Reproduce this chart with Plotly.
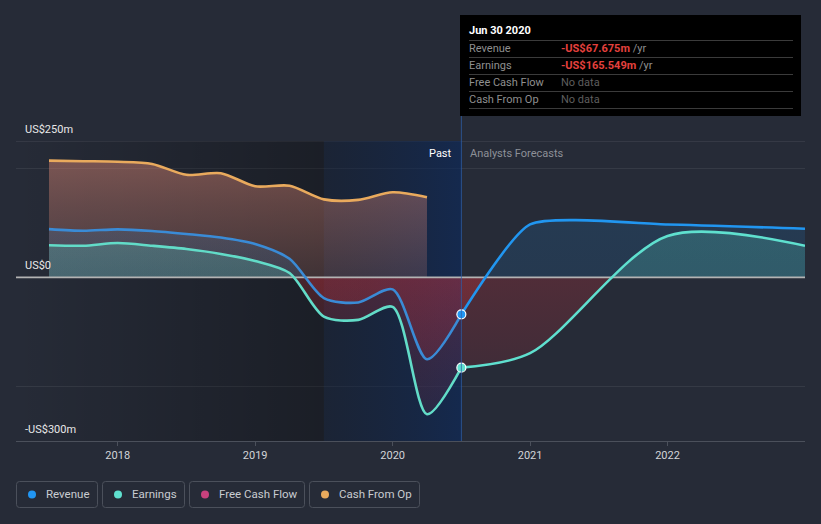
import plotly.graph_objects as go

# ---------------- data ----------------
past_x = [2017.5, 2017.75, 2018.0, 2018.25, 2018.5, 2018.75, 2019.0, 2019.25,
          2019.5, 2019.75, 2020.0, 2020.25, 2020.5]
revenue_past = [88.5, 85.5, 88, 85, 79.5, 73, 61, 34, -38, -46, -22, -150, -67.675]
earnings_past = [59, 58, 63, 58, 52, 43, 30, 8, -72, -78, -54, -251, -165.549]
cfo_x = [2017.5, 2017.75, 2018.0, 2018.25, 2018.5, 2018.75, 2019.0, 2019.25,
         2019.5, 2019.75, 2020.0, 2020.25]
cfo_values = [214, 213, 212, 208, 188, 191, 167, 168, 143, 142, 156, 147]
forecast_x = [2021.0, 2022.0, 2023.0]
revenue_fc = [97, 97, 89]
earnings_fc = [-139, 76, 58]

tick_years = [2018, 2019, 2020, 2021, 2022]
y_labels = {250: "US$250m", 0: "US$0", -300: "-US$300m"}
legend_names = ["Revenue", "Earnings", "Free Cash Flow", "Cash From Op"]
legend_colors = ["#2196f3", "#5fe0cf", "#c8417d", "#e9aa5d"]

x_range = [2017.26, 2023.0]
y_range = [-300, 250]
past_start, now_x = 2019.5, 2020.5

BG = "#262b37"
FONT = "Roboto"
W, H = 821, 524
ML, MR, MT, MB = 16, 16, 141, 83
PW, PH = W - ML - MR, H - MT - MB


def px_x(px):
    return (px - ML) / PW


def px_y(py):
    return (H - MB - py) / PH


# past and forecast segments (forecast starts at the last reported point)
fc_x = [past_x[-1]] + forecast_x
rev_fc_y = [revenue_past[-1]] + revenue_fc
ear_fc_y = [earnings_past[-1]] + earnings_fc

z = -y_range[0] / (y_range[1] - y_range[0])

fig = go.Figure()

# background gradients
fig.add_trace(go.Scatter(
    x=[x_range[0], past_start, past_start, x_range[0], x_range[0]],
    y=[y_range[0], y_range[0], y_range[1], y_range[1], y_range[0]],
    mode="lines", line=dict(width=0), fill="toself",
    fillgradient=dict(type="horizontal", start=x_range[0], stop=past_start,
                      colorscale=[[0, "rgba(0,0,0,0)"], [1, "rgba(0,0,0,0.3)"]]),
    hoverinfo="skip", showlegend=False))
fig.add_trace(go.Scatter(
    x=[past_start, now_x, now_x, past_start, past_start],
    y=[y_range[0], y_range[0], y_range[1], y_range[1], y_range[0]],
    mode="lines", line=dict(width=0), fill="toself",
    fillgradient=dict(type="horizontal", start=past_start, stop=now_x,
                      colorscale=[[0, "rgba(10,25,50,0.4)"], [1, "rgba(10,40,92,0.62)"]]),
    hoverinfo="skip", showlegend=False))

SM_PAST = 0.8
SM_REV_FC = 0.55
SM_EAR_FC = 0.85
red_lo = "rgba(200,50,60,0.08)"
red_hi = "rgba(200,50,60,0.26)"


def fill_trace(x, y, sm, pos_lo, pos_hi):
    return go.Scatter(
        x=x, y=y, mode="lines", line=dict(width=0, shape="spline", smoothing=sm),
        fill="tozeroy",
        fillgradient=dict(type="vertical", start=y_range[0], stop=y_range[1],
                          colorscale=[[0, red_lo], [z - 0.0005, red_hi],
                                      [z + 0.0005, pos_lo], [1, pos_hi]]),
        hoverinfo="skip", showlegend=False)


def line_trace(x, y, sm, color):
    return go.Scatter(x=x, y=y, mode="lines",
                      line=dict(color=color, width=2.6, shape="spline", smoothing=sm),
                      hoverinfo="skip", showlegend=False)


# fills
fig.add_trace(go.Scatter(
    x=cfo_x, y=cfo_values, mode="lines", line=dict(width=0, shape="spline", smoothing=SM_PAST),
    fill="tozeroy",
    fillgradient=dict(type="vertical", start=0, stop=220,
                      colorscale=[[0, "rgba(230,140,120,0.18)"], [0.6, "rgba(230,140,120,0.33)"],
                                  [1, "rgba(230,140,120,0.45)"]]),
    hoverinfo="skip", showlegend=False))
rev_pos = ("rgba(33,150,243,0.13)", "rgba(33,150,243,0.16)")
ear_pos = ("rgba(92,225,207,0.2)", "rgba(92,225,207,0.24)")
fig.add_trace(fill_trace(past_x, revenue_past, SM_PAST, *rev_pos))
fig.add_trace(fill_trace(fc_x, rev_fc_y, SM_REV_FC, *rev_pos))
fig.add_trace(fill_trace(past_x, earnings_past, SM_PAST, *ear_pos))
fig.add_trace(fill_trace(fc_x, ear_fc_y, SM_EAR_FC, *ear_pos))

# zero line
fig.add_trace(go.Scatter(x=x_range, y=[0, 0], mode="lines",
                         line=dict(color="#b3b3b3", width=1.6),
                         hoverinfo="skip", showlegend=False))

# lines
fig.add_trace(line_trace(cfo_x, cfo_values, SM_PAST, "#e9aa5d"))
fig.add_trace(line_trace(past_x, revenue_past, SM_PAST, "#3a8bd6"))
fig.add_trace(line_trace(fc_x, rev_fc_y, SM_REV_FC, "#2196f0"))
fig.add_trace(line_trace(past_x, earnings_past, SM_PAST, "#62dcc8"))
fig.add_trace(line_trace(fc_x, ear_fc_y, SM_EAR_FC, "#5fe0cf"))

# hover markers
fig.add_trace(go.Scatter(x=[past_x[-1]], y=[revenue_past[-1]], mode="markers",
                         marker=dict(color="#2196f3", size=9, line=dict(color="white", width=1.2)),
                         hoverinfo="skip", showlegend=False))
fig.add_trace(go.Scatter(x=[past_x[-1]], y=[earnings_past[-1]], mode="markers",
                         marker=dict(color="#5fe0cf", size=9, line=dict(color="white", width=1.2)),
                         hoverinfo="skip", showlegend=False))

shapes = []
annotations = []

# top gridline
shapes.append(dict(type="line", xref="paper", yref="y", x0=0, x1=1, y0=y_range[1], y1=y_range[1],
                   line=dict(color="#444955", width=1), layer="below"))
# hover vertical line
shapes.append(dict(type="line", xref="x", yref="paper", x0=now_x, x1=now_x, y0=0, y1=px_y(116),
                   line=dict(color="rgba(45,95,170,0.75)", width=1)))

# y labels
for v, t in y_labels.items():
    annotations.append(dict(x=0, xref="paper", y=v, yref="y", text=t, showarrow=False,
                            xanchor="left", yanchor="bottom", xshift=7, yshift=3,
                            font=dict(family=FONT, size=11, color="#e8e8e8")))

# Past / forecasts
annotations.append(dict(x=now_x, xref="x", y=px_y(153), yref="paper", text="Past", showarrow=False,
                        xanchor="right", yanchor="middle", xshift=-7,
                        font=dict(family=FONT, size=11, color="#ffffff")))
annotations.append(dict(x=now_x, xref="x", y=px_y(153), yref="paper", text="Analysts Forecasts",
                        showarrow=False, xanchor="left", yanchor="middle", xshift=7,
                        font=dict(family=FONT, size=11, color="#8d9097")))

# tooltip box
shapes.append(dict(type="rect", xref="paper", yref="paper", x0=px_x(460), x1=px_x(801),
                   y0=px_y(116), y1=px_y(15), fillcolor="#000000", line=dict(width=0)))
for ly in [40.5, 57.5, 74.5, 91.5, 108.5]:
    shapes.append(dict(type="line", xref="paper", yref="paper", x0=px_x(469), x1=px_x(793),
                       y0=px_y(ly), y1=px_y(ly), line=dict(color="#3b3b3b", width=1)))
annotations.append(dict(x=px_x(467), xref="paper", y=px_y(31), yref="paper",
                        text="<b>Jun 30 2020</b>", showarrow=False, xanchor="left", yanchor="middle",
                        font=dict(family=FONT, size=11, color="#ffffff")))
tip_values = [revenue_past[-1], earnings_past[-1], None, None]
for i, (name, val) in enumerate(zip(legend_names, tip_values)):
    ry = 48.5 + 17 * i
    annotations.append(dict(x=px_x(467), xref="paper", y=px_y(ry), yref="paper", text=name,
                            showarrow=False, xanchor="left", yanchor="middle",
                            font=dict(family=FONT, size=11, color="#8f8f8f")))
    if val is None:
        txt = "<span style='color:#5e5e5e'>No data</span>"
    else:
        sign = "-" if val < 0 else ""
        txt = (f"<span style='color:#e5403d'><b>{sign}US${abs(val):.3f}m</b></span>"
               f"<span style='color:#8f8f8f'> /yr</span>")
    annotations.append(dict(x=px_x(559), xref="paper", y=px_y(ry), yref="paper", text=txt,
                            showarrow=False, xanchor="left", yanchor="middle",
                            font=dict(family=FONT, size=11, color="#8f8f8f")))

# legend boxes
boxes = [(16.5, 97.5), (102.5, 184.5), (189.5, 304.5), (309.5, 419.5)]
by0, by1 = 481.5, 507.5


def rounded(x0, x1, y0, y1, r=3):
    rx, ry = r / PW, r / PH
    X0, X1, Y0, Y1 = px_x(x0), px_x(x1), px_y(y1), px_y(y0)
    return (f"M{X0+rx},{Y0} L{X1-rx},{Y0} Q{X1},{Y0} {X1},{Y0+ry} L{X1},{Y1-ry} "
            f"Q{X1},{Y1} {X1-rx},{Y1} L{X0+rx},{Y1} Q{X0},{Y1} {X0},{Y1-ry} "
            f"L{X0},{Y0+ry} Q{X0},{Y0} {X0+rx},{Y0} Z")


for (bx0, bx1), name, col in zip(boxes, legend_names, legend_colors):
    shapes.append(dict(type="path", xref="paper", yref="paper", path=rounded(bx0, bx1, by0, by1),
                       line=dict(color="#4b505b", width=1), fillcolor="rgba(0,0,0,0)"))
    cx, cy, r = bx0 + 15.5, 494.5, 4
    shapes.append(dict(type="circle", xref="paper", yref="paper",
                       x0=px_x(cx - r), x1=px_x(cx + r), y0=px_y(cy + r), y1=px_y(cy - r),
                       fillcolor=col, line=dict(width=0)))
    annotations.append(dict(x=px_x(bx0 + 27.5), xref="paper", y=px_y(494.5), yref="paper", text=name,
                            showarrow=False, xanchor="left", yanchor="middle",
                            font=dict(family=FONT, size=11.5, color="#c9ccd1")))

fig.update_layout(
    width=W, height=H,
    margin=dict(l=ML, r=MR, t=MT, b=MB, pad=0),
    paper_bgcolor=BG, plot_bgcolor=BG,
    showlegend=False, hovermode=False,
    shapes=shapes, annotations=annotations,
    font=dict(family=FONT),
    xaxis=dict(range=x_range, tickvals=tick_years, ticktext=[str(t) for t in tick_years],
               showgrid=False, zeroline=False, showline=True, linecolor="#4b505b", linewidth=1,
               ticks="outside", ticklen=4, tickcolor="#4b505b",
               tickfont=dict(family=FONT, size=11, color="#d2d4d8"), fixedrange=True),
    yaxis=dict(range=y_range, tickvals=[-200, 200], showticklabels=False, showgrid=True,
               gridcolor="#353a45", gridwidth=1, zeroline=False, showline=False, fixedrange=True),
)

fig.write_html("out.html")
